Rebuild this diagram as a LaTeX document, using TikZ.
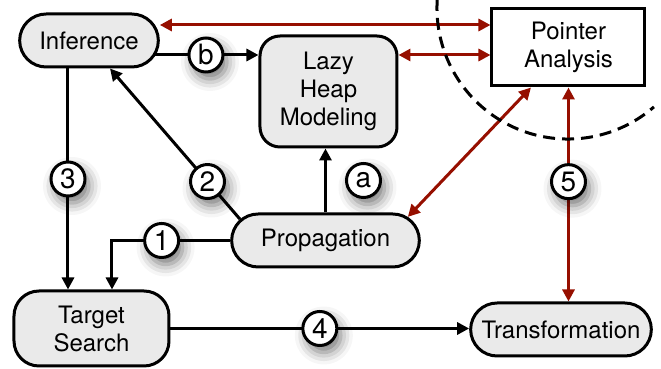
\documentclass[tikz,border=0pt]{standalone}
\usepackage{fontspec}
\setmainfont{TeX Gyre Heros}
\usetikzlibrary{arrows.meta,shapes.misc,backgrounds,shadows.blur}
\definecolor{linkred}{RGB}{150,15,0}
\definecolor{boxgray}{RGB}{234,234,234}

\begin{document}
\begin{tikzpicture}
[
    x=0.5pt, y=0.5pt,
    font=\fontsize{12}{14}\selectfont,
    stage/.style={rounded rectangle, draw, line width=1.5pt, fill=boxgray, minimum height=26.5pt},
    block/.style={rectangle, draw, line width=1.5pt, fill=boxgray, align=center},
    num/.style={circle, draw=black, line width=1.5pt, fill=white, minimum size=17pt, inner sep=0pt,
        font=\fontsize{14}{14}\selectfont,
        blur shadow={shadow xshift=2pt, shadow yshift=-3.5pt, shadow blur radius=6pt, shadow opacity=55}},
    flow/.style={line width=1.5pt, -{Triangle[length=6pt,width=6pt]}},
    link/.style={line width=1.5pt, draw=linkred, {Triangle[length=6pt,width=6pt]}-{Triangle[length=6pt,width=6pt]}},
]
\useasboundingbox (0,0) rectangle (661,369);

% stages
\node [stage, minimum width=76pt] (inf) at (89,328.5) {Inference};
\node [block, rounded corners=10pt, minimum width=68.5pt, minimum height=55.5pt] (lazy) at (328.5,277.5) {Lazy\\Heap\\Modeling};
\node [block, fill=white, rounded corners=0pt, minimum width=76.5pt, minimum height=38.5pt] (pa) at (568.5,321.5) {Pointer\\Analysis};
\node [stage, minimum width=100.5pt] (prop) at (325.5,128.5) {Propagation};
\node [block, rounded corners=12.5pt, minimum width=77.5pt, minimum height=37.5pt] (ts) at (91.5,40.5) {Target\\Search};
\node [stage, minimum width=97pt] (tr) at (561,39.5) {Transformation};

% helper points
\coordinate (bstart) at ([yshift=-7.25pt]inf.center);
\coordinate (threetop) at ([xshift=-10.5pt]inf.south);
\coordinate (redtop) at ([yshift=7.75pt]inf.east);
\coordinate (redmid) at ([yshift=-3.75pt]pa.west);

\begin{pgfonlayer}{background}
% black flow
\draw [flow] (bstart) -- (bstart -| lazy.west) node [num, pos=0.69] (cb) {b};
\draw [flow] (threetop) -- (threetop |- ts.north) node [num, midway] (c3) {3};
\draw [flow] (prop.166) -- ([xshift=10.5pt]inf.south) node [num, pos=0.25] (c2) {2};
\draw [flow] (prop.north) -- (prop.north |- lazy.south) node [num, midway, xshift=19pt] (ca) {a};
\draw [flow] (prop.west) -| ([xshift=10.25pt]ts.north) node [num, pos=0.29] (c1) {1};
\draw [flow] (ts.east) -- (ts.east -| tr.west) node [num, midway] (c4) {4};
% red links to pointer analysis
\draw [link] (redtop) -- (redtop -| pa.west);
\draw [link] (redmid -| lazy.east) -- (redmid);
\draw [link] (prop.16) -- ([xshift=-18.75pt]pa.south);
\draw [link] (pa.south) -- (pa.south |- tr.north) node [num, pos=0.44] (c5) {5};
\end{pgfonlayer}

% boundary
\draw [line width=1.5pt, dash pattern=on 6pt off 3.5pt] (437.3,370.1) arc [start angle=176, end angle=311, radius=65.5pt];
\end{tikzpicture}
\end{document}
